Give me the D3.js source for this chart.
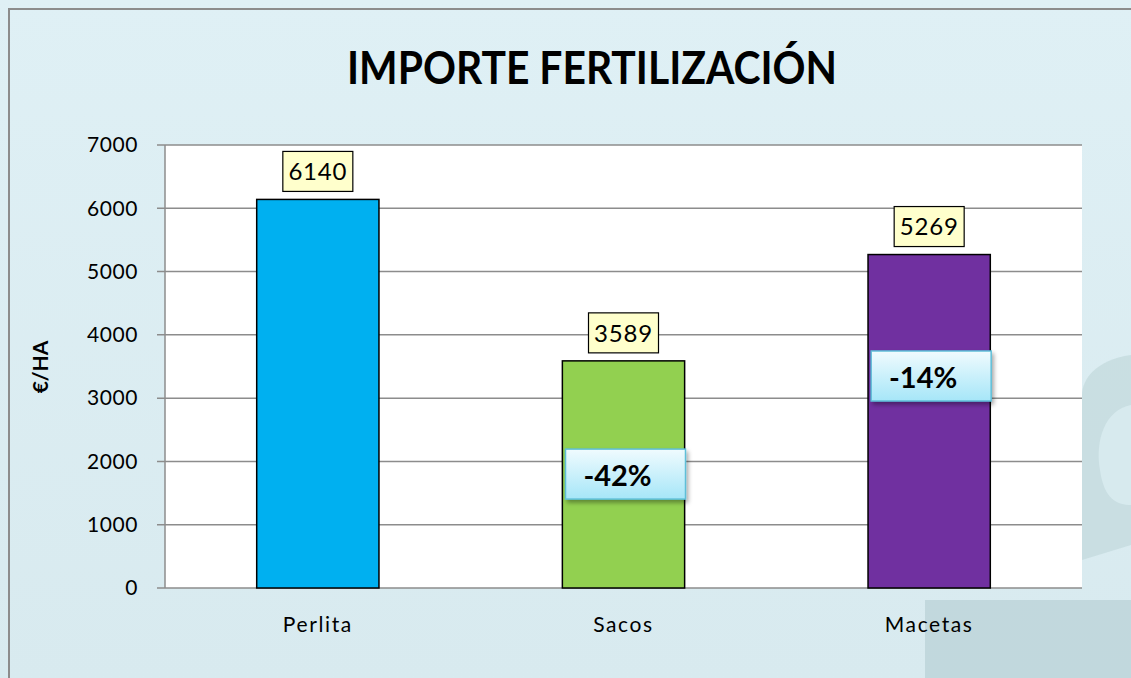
<!DOCTYPE html>
<html><head><meta charset="utf-8">
<script src="https://cdn.jsdelivr.net/npm/d3@7"></script>
<style>
html,body{margin:0;padding:0;background:#fff;}
svg{display:block;}
text{font-family:Lato,"Open Sans","Noto Sans",sans-serif;}
</style></head>
<body>
<svg id="chart" width="1131" height="678"></svg>
<script>
const categories = ["Perlita", "Sacos", "Macetas"];
const values = [6140, 3589, 5269];
const barColors = ["#00B0F0", "#92D050", "#7030A0"];
const changeLabels = [null, "-42%", "-14%"];
const changeAnchors = [null, 1800, 3350];
const yTicks = [0, 1000, 2000, 3000, 4000, 5000, 6000, 7000];
const title = "IMPORTE FERTILIZACIÓN";
const yLabel = "€/HA";

const svg = d3.select("#chart");
const W = 1131, H = 678;
const plot = {left: 165, right: 1082, top: 145, bottom: 588};

// background
const defs = svg.append("defs");
const bg = defs.append("linearGradient").attr("id","bgGrad").attr("x1",0).attr("y1",0).attr("x2",0).attr("y2",1);
bg.append("stop").attr("offset","0%").attr("stop-color","#dff0f5");
bg.append("stop").attr("offset","100%").attr("stop-color","#d8eaef");
const pg = defs.append("linearGradient").attr("id","pctGrad").attr("x1",0).attr("y1",0).attr("x2",0).attr("y2",1);
pg.append("stop").attr("offset","0%").attr("stop-color","#f0fbfe");
pg.append("stop").attr("offset","100%").attr("stop-color","#a6e6f8");
const sh = defs.append("filter").attr("id","shadow").attr("x","-20%").attr("y","-20%").attr("width","150%").attr("height","160%");
sh.append("feDropShadow").attr("dx",2).attr("dy",3).attr("stdDeviation",2).attr("flood-color","#000").attr("flood-opacity",0.35);

svg.append("rect").attr("x",0).attr("y",0).attr("width",W).attr("height",H).attr("fill","url(#bgGrad)");
// faint decorative shapes of the textured background
svg.append("rect").attr("x",925).attr("y",600).attr("width",206).attr("height",78).attr("fill","#bcd3d8").attr("opacity",0.8);
svg.append("path").attr("d","M1131,355 C1095,360 1082,380 1082,395 L1082,560 L1131,545 Z").attr("fill","#c2d8dc").attr("opacity",0.7);
svg.append("path").attr("d","M1131,405 C1105,410 1095,440 1100,470 C1104,500 1118,505 1131,505 Z").attr("fill","#d7eaee");
// outer border
svg.append("path").attr("d","M9,678 L9,9 L1131,9").attr("fill","none").attr("stroke","#8c8c8c").attr("stroke-width",2);

// plot area
svg.append("rect").attr("x",plot.left).attr("y",plot.top).attr("width",plot.right-plot.left).attr("height",plot.bottom-plot.top).attr("fill","#fff");

const x = d3.scaleBand().domain(categories).range([plot.left, plot.right]).paddingInner(0.6).paddingOuter(0.3);
const y = d3.scaleLinear().domain([0, 7000]).range([plot.bottom, plot.top]);

// grid lines
svg.append("g").selectAll("line").data(yTicks).join("line")
  .attr("x1",plot.left-8).attr("x2",plot.right)
  .attr("y1",d=>y(d)).attr("y2",d=>y(d))
  .attr("stroke","#8c8c8c").attr("stroke-width",1.5);

// y axis line
svg.append("line").attr("x1",plot.left).attr("x2",plot.left).attr("y1",plot.top).attr("y2",plot.bottom).attr("stroke","#8c8c8c").attr("stroke-width",1.5);

// y axis labels via axis
const yAxis = svg.append("g").attr("transform",`translate(${plot.left},0)`)
  .call(d3.axisLeft(y).tickValues(yTicks).tickSize(0).tickPadding(27).tickFormat(d3.format("d")));
yAxis.select(".domain").remove();
yAxis.selectAll("text").attr("font-size",21).attr("fill","#000").attr("font-family","Lato,sans-serif").attr("letter-spacing","0.6px");

// x axis labels
const xAxis = svg.append("g").attr("transform",`translate(0,${plot.bottom})`)
  .call(d3.axisBottom(x).tickSize(0).tickPadding(29));
xAxis.select(".domain").remove();
xAxis.selectAll("text").attr("font-size",21).attr("fill","#000").attr("font-family","Lato,sans-serif").attr("letter-spacing","1.6px");

// bars
svg.append("g").selectAll("rect").data(values).join("rect")
  .attr("x",(d,i)=>x(categories[i]))
  .attr("y",d=>y(d))
  .attr("width",x.bandwidth())
  .attr("height",d=>y(0)-y(d))
  .attr("fill",(d,i)=>barColors[i])
  .attr("stroke","#000").attr("stroke-width",1.5);

// value labels
const vl = svg.append("g").selectAll("g").data(values).join("g")
  .attr("transform",(d,i)=>`translate(${x(categories[i])+x.bandwidth()/2},${y(d)-28})`);
vl.append("rect").attr("x",-35).attr("y",-20).attr("width",70).attr("height",40)
  .attr("fill","#ffffcc").attr("stroke","#000").attr("stroke-width",1.2);
vl.append("text").attr("text-anchor","middle").attr("dy","0.36em").attr("font-size",24).attr("fill","#000")
  .attr("letter-spacing","0.8px").attr("font-family","Lato,sans-serif").text(d=>d);

// change labels
const cl = svg.append("g").selectAll("g").data(changeLabels.map((t,i)=>({t,i})).filter(d=>d.t)).join("g")
  .attr("transform",d=>`translate(${x(categories[d.i])+x.bandwidth()/2},${y(changeAnchors[d.i])})`);
cl.append("rect").attr("x",-58).attr("y",-25).attr("width",120).attr("height",50)
  .attr("fill","url(#pctGrad)").attr("stroke","#5fbfd8").attr("stroke-width",1.5).attr("filter","url(#shadow)");
cl.append("text").attr("x",-6).attr("text-anchor","middle").attr("dy","0.42em").attr("font-size",29).attr("font-weight","bold")
  .attr("fill","#000").text(d=>d.t);

// title
svg.append("text").attr("x",592).attr("y",84).attr("text-anchor","middle")
  .attr("font-size",46).attr("font-weight","bold").attr("fill","#000")
  .attr("textLength",490).attr("lengthAdjust","spacingAndGlyphs").text(title);

// y label
svg.append("text").attr("transform","translate(48,367) rotate(-90)").attr("text-anchor","middle")
  .attr("font-size",21).attr("font-weight","bold").attr("fill","#000").text(yLabel);
</script>
</body></html>
